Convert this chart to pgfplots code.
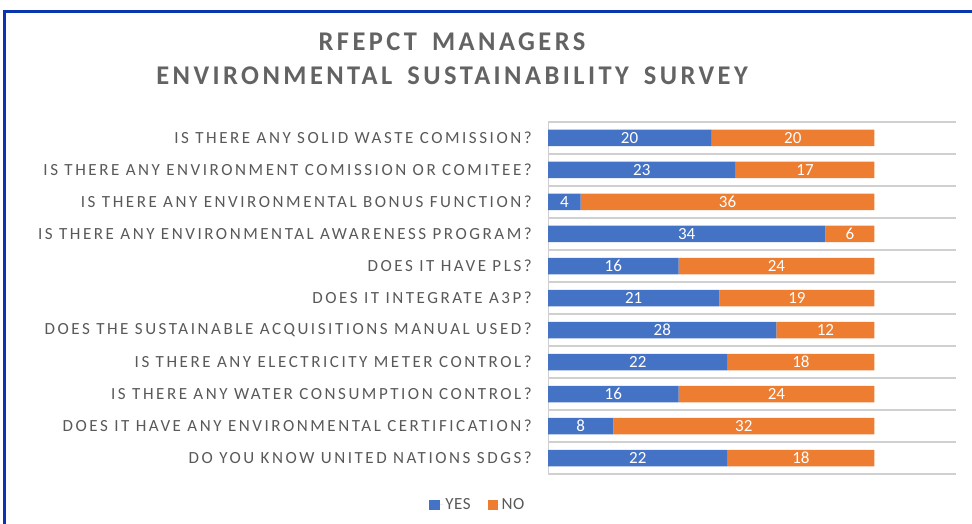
\documentclass[border=0pt]{standalone}
\usepackage{fontspec}
\setmainfont{Carlito}
\newfontfamily\labfont[LetterSpace=15]{Carlito}
\newfontfamily\titlefont[LetterSpace=13,WordSpace=1.6]{Carlito}
\newfontfamily\legfont[LetterSpace=3]{Carlito}
\usepackage{pgfplots}
\pgfplotsset{compat=1.18}
\usepackage{pgfplotstable}
\definecolor{cblue}{HTML}{4472C4}
\definecolor{corange}{HTML}{ED7D31}
\definecolor{txtgray}{HTML}{595959}
\definecolor{titlegray}{HTML}{636363}
\definecolor{frameblue}{HTML}{0A35B0}
\definecolor{gridgray}{HTML}{D0D0D0}

\pgfplotstableread{
idx yes no
0 20 20
1 23 17
2 4 36
3 34 6
4 16 24
5 21 19
6 28 12
7 22 18
8 16 24
9 8 32
10 22 18
}\surveydata

\pgfplotsset{
  commonaxis/.style={
    at={(548pt,50pt)}, anchor=south west, scale only axis,
    width=408pt, height=352pt,
    xmin=0, xmax=50, ymin=-0.5, ymax=10.5, y dir=reverse,
  }
}

\begin{document}
\begin{tikzpicture}
\useasboundingbox (0pt,0pt) rectangle (972pt,524pt);
\fill[white] (0pt,0pt) rectangle (972pt,524pt);
\draw[frameblue, line width=3pt] (4.5pt,0pt) -- (4.5pt,512.5pt) -- (972pt,512.5pt);
\node[text=titlegray, font=\titlefont\bfseries\fontsize{27}{34}\selectfont, xscale=0.98, align=center] at (452pt,465pt) {RFEPCT MANAGERS\\ENVIRONMENTAL SUSTAINABILITY SURVEY};

\begin{axis}[commonaxis,
  xbar stacked, bar width=16.5pt,
  xtick=\empty,
  ytick={0,...,10},
  yticklabels={
    IS THERE ANY SOLID WASTE COMISSION?,
    IS THERE ANY ENVIRONMENT COMISSION OR COMITEE?,
    IS THERE ANY ENVIRONMENTAL BONUS FUNCTION?,
    IS THERE ANY ENVIRONMENTAL AWARENESS PROGRAM?,
    DOES IT HAVE PLS?,
    DOES IT INTEGRATE A3P?,
    DOES THE SUSTAINABLE ACQUISITIONS MANUAL USED?,
    IS THERE ANY ELECTRICITY METER CONTROL?,
    IS THERE ANY WATER CONSUMPTION CONTROL?,
    DOES IT HAVE ANY ENVIRONMENTAL CERTIFICATION?,
    DO YOU KNOW UNITED NATIONS SDGS?},
  yticklabel style={font=\labfont\fontsize{17}{20}\selectfont, text=txtgray, anchor=east, inner sep=0pt, xshift=-16pt},
  minor ytick={-0.5,0.5,...,10.5},
  yminorgrids=true,
  minor grid style={gridgray, line width=1.3pt},
  major tick length=0pt, minor tick length=0pt,
  axis line style={draw=none},
  legend style={at={(-0.172,-0.087)}, anchor=center, draw=none, fill=none,
    legend columns=2, font=\legfont\fontsize{17}{20}\selectfont, text=txtgray,
    /tikz/every even column/.append style={column sep=15pt},
    legend cell align=left},
]
\addplot[fill=cblue, draw=none,
  legend image code/.code={\path (0pt,0pt) -- (14pt,0pt);\fill[cblue] (0pt,-5pt) rectangle (11pt,5pt);}]
  table[x=yes, y=idx] {\surveydata};
\addplot[fill=corange, draw=none,
  legend image code/.code={\path (0pt,0pt) -- (12pt,0pt);\fill[corange] (0pt,-5pt) rectangle (10pt,5pt);}]
  table[x=no, y=idx] {\surveydata};
\legend{YES, NO}
\draw[gridgray, line width=1pt] (axis cs:0,-0.5) -- (axis cs:0,10.5);
\end{axis}

\begin{axis}[commonaxis, hide axis,
  every node near coord/.append style={anchor=center, font=\fontsize{17}{20}\selectfont, text=white},
]
\addplot[draw=none, nodes near coords, point meta=explicit symbolic]
  table[x expr=\thisrow{yes}/2, y=idx, meta=yes] {\surveydata};
\addplot[draw=none, nodes near coords, point meta=explicit symbolic]
  table[x expr=\thisrow{yes}+\thisrow{no}/2, y=idx, meta=no] {\surveydata};
\end{axis}
\end{tikzpicture}
\end{document}
